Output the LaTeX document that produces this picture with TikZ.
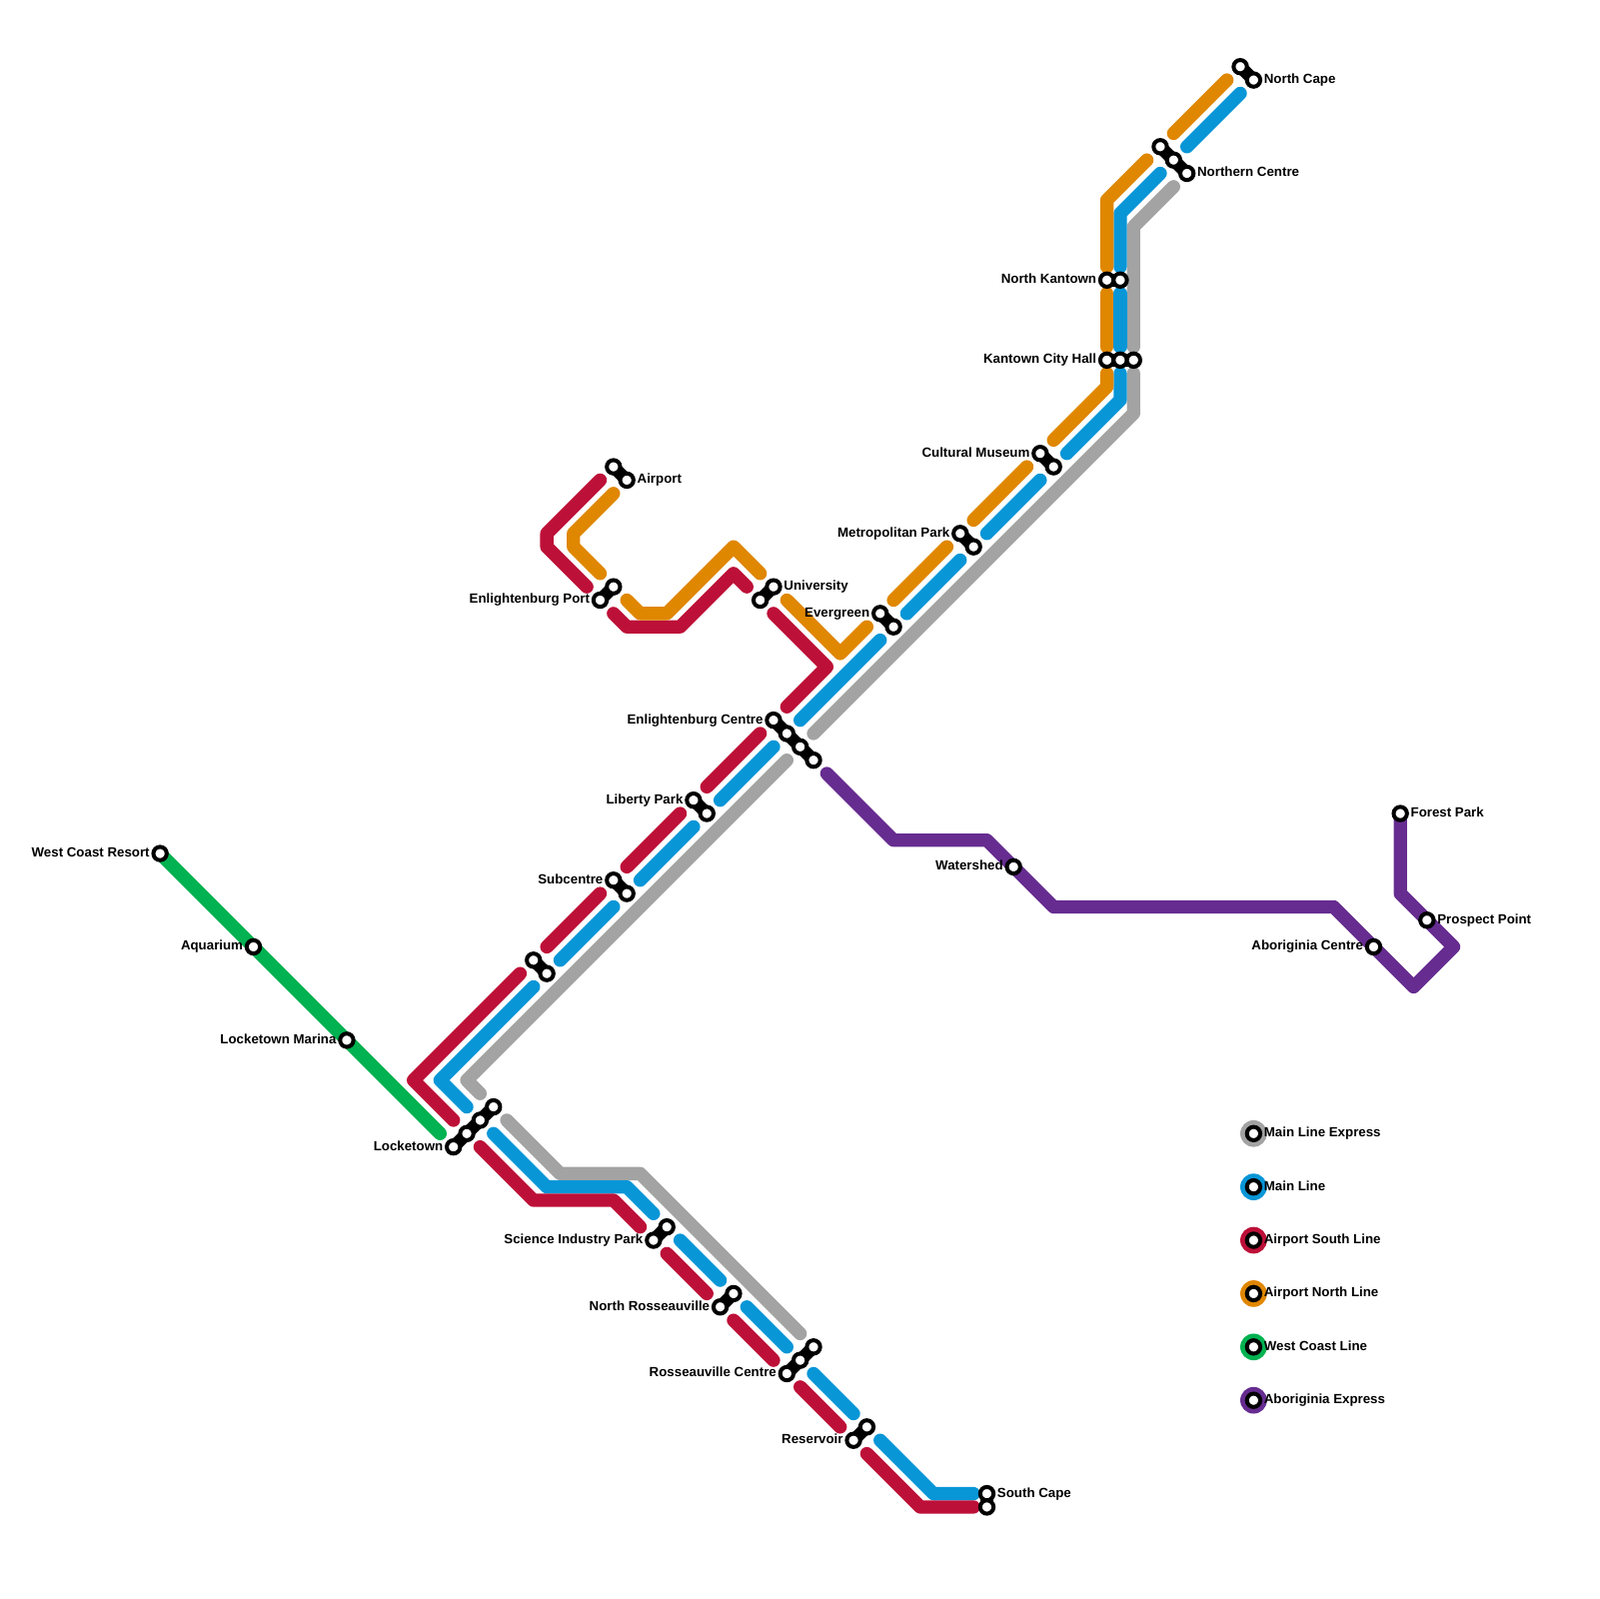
\documentclass[tikz,border=0pt]{standalone}
\usepackage{fontspec}
\setmainfont{Liberation Sans}
\usetikzlibrary{backgrounds}
\definecolor{ExpressGrey}{HTML}{A3A3A3}
\definecolor{MainBlue}{HTML}{0896D7}
\definecolor{SouthRed}{HTML}{BD1038}
\definecolor{NorthOrange}{HTML}{E08700}
\definecolor{CoastGreen}{HTML}{00B251}
\definecolor{AboPurple}{HTML}{662C90}
\begin{document}
\begin{tikzpicture}[
        x=2mm, y=-2mm,
        font=\fontsize{5.67}{6.5}\selectfont\bfseries,
        rail/.style={line width=2mm, line cap=round, line join=round},
        express/.style={rail, draw=ExpressGrey},
        mainl/.style={rail, draw=MainBlue},
        south/.style={rail, draw=SouthRed},
        north/.style={rail, draw=NorthOrange},
        coast/.style={rail, draw=CoastGreen},
        abor/.style={rail, draw=AboPurple},
        stn/.style={circle, draw=black, fill=white, line width=0.6mm, minimum size=2mm, inner sep=0pt},
        lnk/.style={draw=black, line width=1.9mm},
        lbl/.style={inner sep=0pt, label distance=0.2mm, text height=1.5mm, text depth=0.46mm},
        leg/.style={circle, minimum size=4mm, inner sep=0pt}
    ]
        \useasboundingbox (0,0) rectangle (119.9,119.9);
        % Main Line Express
        \draw[express] (36,82) -- (35,81) -- (59,57);
        \draw[express] (38,84) -- (42,88) -- (48,88) -- (60,100);
        \draw[express] (61,55) -- (85,31) -- (85,28);
        \draw[express] (85,26) -- (85,17) -- (88,14);
        % Main Line
        \draw[mainl] (35,83) -- (33,81) -- (40,74);
        \draw[mainl] (42,72) -- (46,68);
        \draw[mainl] (48,66) -- (52,62);
        \draw[mainl] (54,60) -- (58,56);
        \draw[mainl] (60,54) -- (66,48);
        \draw[mainl] (68,46) -- (72,42);
        \draw[mainl] (74,40) -- (78,36);
        \draw[mainl] (80,34) -- (84,30) -- (84,28);
        \draw[mainl] (84,26) -- (84,22);
        \draw[mainl] (84,20) -- (84,16) -- (87,13);
        \draw[mainl] (89,11) -- (93,7);
        \draw[mainl] (37,85) -- (41,89) -- (47,89) -- (49,91);
        \draw[mainl] (51,93) -- (54,96);
        \draw[mainl] (56,98) -- (59,101);
        \draw[mainl] (61,103) -- (64,106);
        \draw[mainl] (66,108) -- (70,112) -- (73,112);
        % Airport South Line
        \draw[south] (34,84) -- (31,81) -- (39,73);
        \draw[south] (41,71) -- (45,67);
        \draw[south] (47,65) -- (51,61);
        \draw[south] (53,59) -- (57,55);
        \draw[south] (59,53) -- (62,50) -- (58,46);
        \draw[south] (56,44) -- (55,43) -- (51,47) -- (47,47) -- (46,46);
        \draw[south] (44,44) -- (41,41) -- (41,40) -- (45,36);
        \draw[south] (36,86) -- (40,90) -- (46,90) -- (48,92);
        \draw[south] (50,94) -- (53,97);
        \draw[south] (55,99) -- (58,102);
        \draw[south] (60,104) -- (63,107);
        \draw[south] (65,109) -- (69,113) -- (73,113);
        % Airport North Line
        \draw[north] (46,37) -- (43,40) -- (43,41) -- (45,43);
        \draw[north] (47,45) -- (48,46) -- (50,46) -- (55,41) -- (57,43);
        \draw[north] (59,45) -- (63,49) -- (65,47);
        \draw[north] (67,45) -- (71,41);
        \draw[north] (73,39) -- (77,35);
        \draw[north] (79,33) -- (83,29) -- (83,28);
        \draw[north] (83,26) -- (83,22);
        \draw[north] (83,20) -- (83,15) -- (86,12);
        \draw[north] (88,10) -- (92,6);
        % West Coast Line
        \draw[coast] (12,64) -- (33,85);
        % Aboriginia Express
        \draw[abor] (62,58) -- (67,63) -- (74,63) -- (79,68) -- (100,68) -- (106,74) -- (109,71) -- (105,67) -- (105,61);
        % stations
        \node[stn, label={[lbl]left:West Coast Resort}] (wcr) at (12,64) {};
        \node[stn, label={[lbl]left:Aquarium}] (aqu) at (19,71) {};
        \node[stn, label={[lbl]left:Locketown Marina}] (lma) at (26,78) {};
        \node[stn, label={[lbl]left:Locketown}] (loc1) at (34,86) {};
        \node[stn] (loc2) at (35,85) {};
        \node[stn] (loc3) at (36,84) {};
        \node[stn] (loc4) at (37,83) {};
        \node[stn] (unn1) at (40,72) {};
        \node[stn] (unn2) at (41,73) {};
        \node[stn, label={[lbl]left:Subcentre}] (sub1) at (46,66) {};
        \node[stn] (sub2) at (47,67) {};
        \node[stn, label={[lbl]left:Liberty Park}] (lib1) at (52,60) {};
        \node[stn] (lib2) at (53,61) {};
        \node[stn, label={[lbl]left:Enlightenburg Centre}] (enc1) at (58,54) {};
        \node[stn] (enc2) at (59,55) {};
        \node[stn] (enc3) at (60,56) {};
        \node[stn] (enc4) at (61,57) {};
        \node[stn, label={[lbl]left:Evergreen}] (evg1) at (66,46) {};
        \node[stn] (evg2) at (67,47) {};
        \node[stn, label={[lbl]left:Metropolitan Park}] (met1) at (72,40) {};
        \node[stn] (met2) at (73,41) {};
        \node[stn, label={[lbl]left:Cultural Museum}] (cul1) at (78,34) {};
        \node[stn] (cul2) at (79,35) {};
        \node[stn, label={[lbl]left:Kantown City Hall}] (kch1) at (83,27) {};
        \node[stn] (kch2) at (84,27) {};
        \node[stn] (kch3) at (85,27) {};
        \node[stn, label={[lbl]left:North Kantown}] (nka1) at (83,21) {};
        \node[stn] (nka2) at (84,21) {};
        \node[stn] (noc1) at (87,11) {};
        \node[stn] (noc2) at (88,12) {};
        \node[stn, label={[lbl]right:Northern Centre}] (noc3) at (89,13) {};
        \node[stn] (nca1) at (93,5) {};
        \node[stn, label={[lbl]right:North Cape}] (nca2) at (94,6) {};
        \node[stn] (air1) at (46,35) {};
        \node[stn, label={[lbl]right:Airport}] (air2) at (47,36) {};
        \node[stn, label={[lbl]left:Enlightenburg Port}] (enp1) at (45,45) {};
        \node[stn] (enp2) at (46,44) {};
        \node[stn] (uni1) at (57,45) {};
        \node[stn, label={[lbl]right:University}] (uni2) at (58,44) {};
        \node[stn, label={[lbl]left:Science Industry Park}] (sci1) at (49,93) {};
        \node[stn] (sci2) at (50,92) {};
        \node[stn, label={[lbl]left:North Rosseauville}] (nro1) at (54,98) {};
        \node[stn] (nro2) at (55,97) {};
        \node[stn, label={[lbl]left:Rosseauville Centre}] (rce1) at (59,103) {};
        \node[stn] (rce2) at (60,102) {};
        \node[stn] (rce3) at (61,101) {};
        \node[stn, label={[lbl]left:Reservoir}] (res1) at (64,108) {};
        \node[stn] (res2) at (65,107) {};
        \node[stn, label={[lbl]right:South Cape}] (sca1) at (74,112) {};
        \node[stn] (sca2) at (74,113) {};
        \node[stn, label={[lbl]left:Watershed}] (wat) at (76,65) {};
        \node[stn, label={[lbl]left:Aboriginia Centre}] (abc) at (103,71) {};
        \node[stn, label={[lbl]right:Prospect Point}] (pro) at (107,69) {};
        \node[stn, label={[lbl]right:Forest Park}] (for) at (105,61) {};
        % links between platforms
        \begin{pgfonlayer}{background}
        \foreach \a/\b in {loc1/loc2, loc2/loc3, loc3/loc4, unn1/unn2, sub1/sub2, lib1/lib2,
            enc1/enc2, enc2/enc3, enc3/enc4, evg1/evg2, met1/met2, cul1/cul2, kch1/kch2, kch2/kch3,
            nka1/nka2, noc1/noc2, noc2/noc3, nca1/nca2, air1/air2, enp1/enp2, uni1/uni2, sci1/sci2,
            nro1/nro2, rce1/rce2, rce2/rce3, res1/res2, sca1/sca2}
            \draw[lnk] (\a.center) -- (\b.center);
        \end{pgfonlayer}
        % legend
        \foreach \col/\txt/\nm [count=\i from 0] in {ExpressGrey/Main Line Express/lexp, MainBlue/Main Line/lmai,
            SouthRed/Airport South Line/lsou, NorthOrange/Airport North Line/lnor,
            CoastGreen/West Coast Line/lcoa, AboPurple/Aboriginia Express/labo} {
            \node[leg, fill=\col] (\nm) at (94,85+4*\i) {};
            \node[stn, label={[lbl]right:\txt}] at (\nm) {};
        }
    \end{tikzpicture}
\end{document}
